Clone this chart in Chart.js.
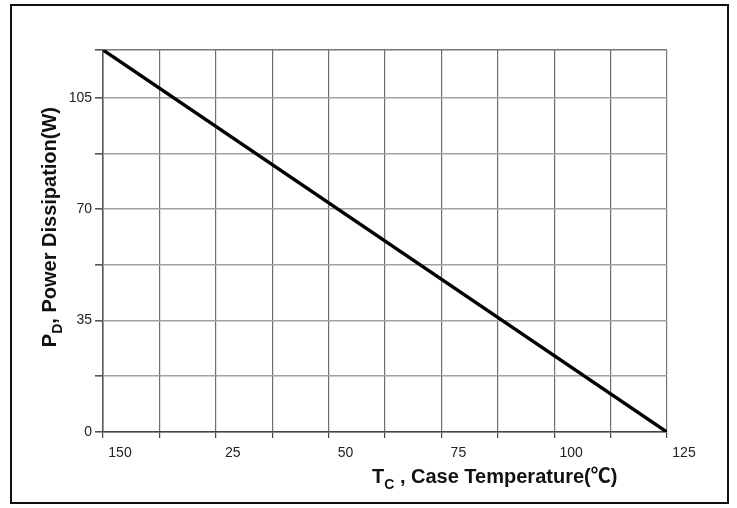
<!DOCTYPE html>
<html>
<head>
<meta charset="utf-8">
<script src="https://cdn.jsdelivr.net/npm/chart.js@4"></script>
<style>
  html, body { margin: 0; padding: 0; background: #ffffff; }
  #wrap { position: relative; width: 737px; height: 508px; }
</style>
</head>
<body>
<div id="wrap"><canvas id="c" width="737" height="508"></canvas></div>
<script>
// ---- data ----
const caseTemp = [25, 150];          // T_C (°C)
const powerDiss = [120, 0];          // P_D (W)
const xTickLabels = ['150', '25', '50', '75', '100', '125']; // as printed under the major x ticks
const yTickLabels = ['0', '35', '70', '105'];                // major y tick labels
const xTitleMain = 'T', xTitleSub = 'C', xTitleRest = ' , Case Temperature(\u2103)';
const yTitleMain = 'P', yTitleSub = 'D', yTitleRest = ', Power Dissipation(W)';

const X_MIN = 25, X_MAX = 150, X_STEP = 12.5;
const Y_MIN = 0, Y_MAX = 120, Y_STEP = 17.5;

const points = caseTemp.map((t, i) => ({ x: t, y: powerDiss[i] }));

const tickFont = { family: "'Liberation Sans Narrow', 'Liberation Sans', Arial, sans-serif", size: 14 };
const titleFamily = "'Liberation Sans', Arial, 'Noto Sans CJK SC', sans-serif";

const framePlugin = {
  id: 'frame',
  beforeDraw(chart) {
    const ctx = chart.ctx;
    ctx.save();
    ctx.fillStyle = '#ffffff';
    ctx.fillRect(0, 0, chart.width, chart.height);
    ctx.restore();
  },
  afterDraw(chart) {
    const ctx = chart.ctx;
    ctx.save();
    // outer frame
    ctx.strokeStyle = '#111';
    ctx.lineWidth = 2;
    ctx.strokeRect(11, 5, 717, 498);

    // x title with subscript
    ctx.fillStyle = '#111';
    ctx.textBaseline = 'alphabetic';
    ctx.textAlign = 'left';
    let x = 372, base = 483;
    ctx.font = 'bold 20px ' + titleFamily;
    ctx.fillText(xTitleMain, x, base);
    x += ctx.measureText(xTitleMain).width;
    ctx.font = 'bold 14px ' + titleFamily;
    ctx.fillText(xTitleSub, x, base + 6);
    x += ctx.measureText(xTitleSub).width;
    ctx.font = 'bold 20px ' + titleFamily;
    ctx.fillText(xTitleRest, x, base);

    // y title (rotated) with subscript, ends near y=107
    ctx.font = 'bold 20px ' + titleFamily;
    const wMain = ctx.measureText(yTitleMain).width;
    const wRest = ctx.measureText(yTitleRest).width;
    ctx.font = 'bold 14px ' + titleFamily;
    const wSub = ctx.measureText(yTitleSub).width;
    const total = wMain + wSub + wRest;
    ctx.translate(56, 107 + total);
    ctx.rotate(-Math.PI / 2);
    let p = 0;
    ctx.font = 'bold 20px ' + titleFamily;
    ctx.fillText(yTitleMain, p, 0);
    p += wMain;
    ctx.font = 'bold 14px ' + titleFamily;
    ctx.fillText(yTitleSub, p, 6);
    p += wSub;
    ctx.font = 'bold 20px ' + titleFamily;
    ctx.fillText(yTitleRest, p, 0);
    ctx.restore();
  }
};

new Chart(document.getElementById('c'), {
  type: 'scatter',
  data: {
    datasets: [{
      data: points,
      showLine: true,
      borderColor: '#000000',
      borderWidth: 3.5,
      pointRadius: 0,
      pointHoverRadius: 0,
      fill: false,
      tension: 0
    }]
  },
  options: {
    responsive: false,
    animation: false,
    events: [],
    layout: { padding: { top: 50, right: 70, left: 0, bottom: 0 } },
    plugins: { legend: { display: false }, tooltip: { enabled: false }, title: { display: false } },
    scales: {
      x: {
        type: 'linear',
        min: X_MIN, max: X_MAX,
        afterFit(s) { s.height = 76; },
        border: { display: true, color: '#444', width: 1.5 },
        grid: {
          color: (c) => c.tick && c.tick.value === X_MAX ? '#777' : '#6e6e6e',
          lineWidth: 1.2,
          tickLength: 6,
          tickColor: '#444',
          drawTicks: true
        },
        ticks: {
          stepSize: X_STEP,
          autoSkip: false,
          maxRotation: 0,
          minRotation: 0,
          labelOffset: 17,
          padding: 7,
          color: '#222',
          font: tickFont,
          callback(v) {
            const idx = (v - X_MIN) / 25;
            return Number.isInteger(idx) ? xTickLabels[idx] : '';
          }
        }
      },
      y: {
        type: 'linear',
        min: Y_MIN, max: Y_MAX,
        afterFit(s) { s.width = 103; },
        border: { display: true, color: '#555', width: 1.5 },
        grid: {
          color: (c) => c.tick && c.tick.value === Y_MAX ? '#777' : '#a0a0a0',
          lineWidth: 1.6,
          tickLength: 8,
          tickColor: '#555'
        },
        ticks: {
          stepSize: Y_STEP,
          autoSkip: false,
          padding: 3,
          color: '#222',
          font: tickFont,
          callback(v) {
            const idx = v / 35;
            return Number.isInteger(idx) ? yTickLabels[idx] : '';
          }
        }
      }
    }
  },
  plugins: [framePlugin]
});
</script>
</body>
</html>
